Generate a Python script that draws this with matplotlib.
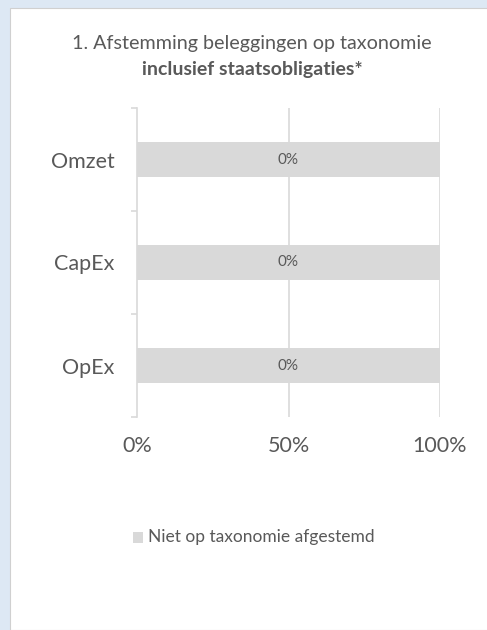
import matplotlib
matplotlib.use("Agg")
import matplotlib.pyplot as plt
from matplotlib.patches import Rectangle

categories = ["Omzet", "CapEx", "OpEx"]
niet_afgestemd = [100, 100, 100]
bar_labels = ["0%", "0%", "0%"]
x_ticks = [0, 50, 100]
x_tick_labels = ["0%", "50%", "100%"]
series_name = "Niet op taxonomie afgestemd"

plt.rcParams['font.family'] = ['Lato', 'DejaVu Sans']
text_col = "#595959"
grey = "#d9d9d9"

fig = plt.figure(figsize=(4.87, 6.3), dpi=100)
fig.patch.set_facecolor("#dde8f4")
# white chart panel
fig.patches.append(Rectangle((10 / 487, 0), 1, 1 - 8 / 630, transform=fig.transFigure,
                             facecolor="white", edgecolor="#d0d0d0", linewidth=0.8, zorder=-10))

ax = fig.add_axes([137 / 487, 1 - 417 / 630, 303 / 487, 309 / 630])
ax.set_facecolor("none")
ypos = list(range(len(categories)))
bars = ax.barh(ypos, niet_afgestemd, height=0.34, color=grey, zorder=2)
for rect, lab in zip(bars, bar_labels):
    ax.text(50, rect.get_y() + rect.get_height() / 2, lab, ha='center', va='center',
            fontsize=11, color=text_col, zorder=3)

ax.set_xlim(0, 100)
ax.set_ylim(len(categories) - 0.5, -0.5)
ax.set_xticks(x_ticks)
ax.set_xticklabels(x_tick_labels, fontsize=15.5, color=text_col)
ax.set_yticks(ypos)
ax.set_yticklabels(categories, fontsize=15.5, color=text_col)
ax.set_yticks([i - 0.5 for i in range(len(categories) + 1)], minor=True)
ax.tick_params(axis='y', which='major', length=0, pad=16)
ax.tick_params(axis='y', which='minor', length=4, color=grey, width=1.2)
ax.tick_params(axis='x', length=0, pad=14)
for x in x_ticks[1:]:
    ax.axvline(x, color=grey, linewidth=1.2, zorder=1)
for s in ["top", "right", "bottom"]:
    ax.spines[s].set_visible(False)
ax.spines["left"].set_color(grey)
ax.spines["left"].set_linewidth(1.2)

fig.text(252 / 487, 1 - 43 / 630, "1. Afstemming beleggingen op taxonomie", ha='center', va='center',
         fontsize=14.2, color=text_col)
fig.text(252 / 487, 1 - 70 / 630, "inclusief staatsobligaties*", ha='center', va='center',
         fontsize=14, color=text_col, fontweight='bold')

# legend
fig.patches.append(Rectangle((133 / 487, 1 - 543 / 630), 10 / 487, 11 / 630, transform=fig.transFigure,
                             facecolor=grey, edgecolor='none'))
fig.text(148 / 487, 1 - 537 / 630, series_name, ha='left', va='center', fontsize=12.5, color=text_col)

fig.savefig("out.png", dpi=100)
